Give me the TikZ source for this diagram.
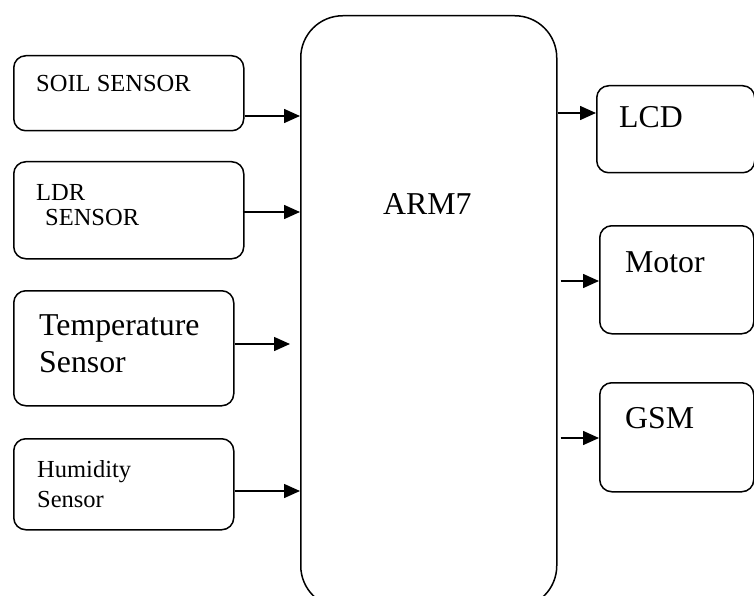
\documentclass[tikz,border=0pt]{standalone}
\usepackage{fontspec}
\setmainfont{Liberation Serif}
\usetikzlibrary{arrows.meta}
\begin{document}
\begin{tikzpicture}[x=1pt,y=-1pt,
  box/.style={draw, line width=1.5pt, rounded corners=12pt, anchor=north west, inner sep=0pt},
  arr/.style={line width=1.5pt, -{Triangle[length=16pt,width=14pt]}},
  big/.style={anchor=base west, inner sep=0pt, font=\fontsize{31.8}{36}\selectfont},
  small/.style={anchor=base west, inner sep=0pt, font=\fontsize{24.5}{29}\selectfont}]
\useasboundingbox (0,0) rectangle (754,596);
\clip (0,0) rectangle (754,596);
% main block
\node[box, rounded corners=42pt, minimum width=256pt, minimum height=592pt] (arm) at (300,15) {};
\node[big] (armt) at (383,214) {ARM7};
% inputs
\node[box, minimum width=230pt, minimum height=75pt] (soil) at (13,55) {};
\node[small] (soilt) at (36,92) {SOIL SENSOR};
\node[box, minimum width=230pt, minimum height=97pt] (ldr) at (13,161) {};
\node[small] (ldrt1) at (36,200) {LDR};
\node[small] (ldrt2) at (45,225) {SENSOR};
\node[box, minimum width=220pt, minimum height=115pt] (temp) at (13,290) {};
\node[big] (tempt1) at (39,335) {Temperature};
\node[big] (tempt2) at (39,372) {Sensor};
\node[box, minimum width=220pt, minimum height=91pt] (hum) at (13,438) {};
\node[small] (humt1) at (37,477) {Humidity};
\node[small] (humt2) at (37,507) {Sensor};
% outputs
\node[box, minimum width=158pt, minimum height=87pt] (lcd) at (596,85) {};
\node[big] (lcdt) at (619,128) {LCD};
\node[box, minimum width=154pt, minimum height=108pt] (motor) at (599,225) {};
\node[big] (motort) at (625,272) {Motor};
\node[box, minimum width=154pt, minimum height=109pt] (gsm) at (599,382) {};
\node[big] (gsmt) at (625,428) {GSM};
% arrow levels
\coordinate (y1) at (0,116);
\coordinate (y2) at (0,212);
\coordinate (y3) at (0,344);
\coordinate (y4) at (0,491);
\coordinate (y5) at (0,113);
\coordinate (y6) at (0,281);
\coordinate (y7) at (0,438);
\draw[arr] (soil.east |- y1) -- (arm.west |- y1);
\draw[arr] ([xshift=-2pt]ldr.east |- y2) -- (arm.west |- y2);
\draw[arr] (temp.east |- y3) -- ([xshift=-10pt]arm.west |- y3);
\draw[arr] (hum.east |- y4) -- (arm.west |- y4);
\draw[arr] (arm.east |- y5) -- (lcd.west |- y5);
\draw[arr] ([xshift=3pt]arm.east |- y6) -- (motor.west |- y6);
\draw[arr] ([xshift=3pt]arm.east |- y7) -- (gsm.west |- y7);
\end{tikzpicture}
\end{document}
